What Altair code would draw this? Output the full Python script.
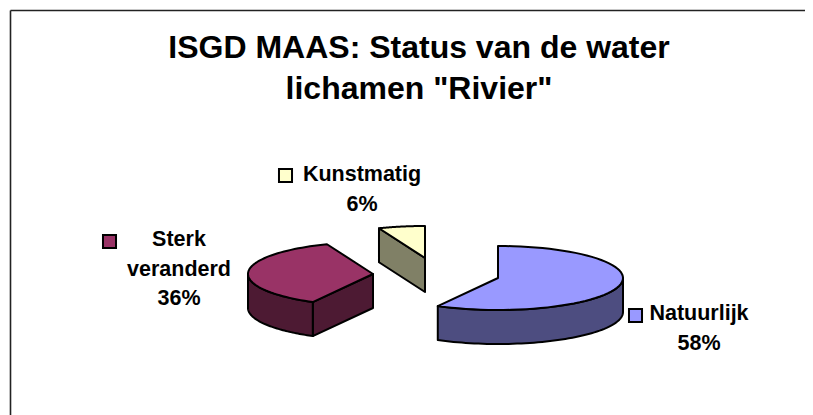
import math
import altair as alt
import pandas as pd

# ---- values
categories = ["Natuurlijk", "Sterk veranderd", "Kunstmatig"]
shares = [58, 36, 6]
label_lines = [["Natuurlijk"], ["Sterk", "veranderd"], ["Kunstmatig"]]
title_lines = ["ISGD MAAS: Status van de water", 'lichamen "Rivier"']

# ---- styling and layout (page pixels)
top_colors = ["#9999FF", "#993366", "#FFFFCC"]
side_colors = ["#4D4D80", "#4D1A33", "#808066"]
apex = [(498, 278), (373, 274), (425, 258)]       # exploded slice anchors
key_pos = [(635.5, 315.5), (109.5, 241.5), (285.5, 175.5)]
label_x = [699, 179, 362]
label_y = [314, 240, 175]
line_step = 29.5
RX, RY, DEPTH = 125, 32, 34
W, H = 797, 407
FONT = "Liberation Sans"

x_enc = dict(scale=alt.Scale(domain=[8, 8 + W], range=[0, W]), axis=None)
y_enc = dict(scale=alt.Scale(domain=[8, 8 + H], range=[0, H]), axis=None)


def rim(c, a0, a1, dy=0, n=60):
    pts = []
    for i in range(n + 1):
        a = math.radians(a0 + (a1 - a0) * i / n)
        pts.append((c[0] + RX * math.sin(a), c[1] - RY * math.cos(a) + dy))
    return pts


def face(points, color):
    df = pd.DataFrame(points, columns=["x", "y"])
    df["seq"] = range(len(df))
    return (
        alt.Chart(df)
        .mark_line(interpolate="linear-closed", fill=color, stroke="black",
                   strokeWidth=2, strokeJoin="round")
        .encode(x=alt.X("x:Q", **x_enc), y=alt.Y("y:Q", **y_enc), order="seq:Q")
    )


layers = []

# frame: top and left rules only
frame = pd.DataFrame({"x": [10.5, 10.5], "x2": [10.5, 813], "y": [10.5, 10.5], "y2": [415, 10.5]})
layers.append(
    alt.Chart(frame).mark_rule(color="#222222", strokeWidth=1.6).encode(
        x=alt.X("x:Q", **x_enc), x2="x2:Q", y=alt.Y("y:Q", **y_enc), y2="y2:Q"
    )
)

# slices
start = 0.0
for i, share in enumerate(shares):
    end = start + share * 3.6
    c = apex[i]
    c_low = (c[0], c[1] + DEPTH)
    r0 = rim(c, start, start, 0, 1)[0]
    # radial wall at the slice's earlier edge when it faces the viewer
    if 180 < start < 360:
        low = (r0[0], r0[1] + DEPTH)
        layers.append(face([c, r0, low, c_low], side_colors[i]))
    # curved outer wall on the front half of the ellipse
    a0, a1 = max(start, 90), min(end, 270)
    if a1 > a0:
        layers.append(face(rim(c, a0, a1) + rim(c, a1, a0, DEPTH), side_colors[i]))
    layers.append(face([c] + rim(c, start, end), top_colors[i]))
    start = end

# legend keys
keys = pd.DataFrame({
    "x": [p[0] for p in key_pos], "y": [p[1] for p in key_pos],
    "category": categories, "color": top_colors,
})
layers.append(
    alt.Chart(keys).mark_square(size=170, opacity=1, stroke="black", strokeWidth=2).encode(
        x=alt.X("x:Q", **x_enc), y=alt.Y("y:Q", **y_enc),
        fill=alt.Fill("color:N", scale=None),
    )
)

# labels
rows = []
for lines, share, lx, ly in zip(label_lines, shares, label_x, label_y):
    for j, t in enumerate(lines + [f"{share}%"]):
        rows.append({"x": lx, "y": ly + j * line_step, "text": t})
layers.append(
    alt.Chart(pd.DataFrame(rows))
    .mark_text(font=FONT, fontWeight="bold", fontSize=21.5, color="black",
               align="center", baseline="middle")
    .encode(x=alt.X("x:Q", **x_enc), y=alt.Y("y:Q", **y_enc), text="text:N")
)

chart = (
    alt.layer(*layers)
    .properties(
        width=W, height=H, padding=0,
        autosize=alt.AutoSizeParams(type="none"),
        title=alt.TitleParams(
            text=title_lines, font=FONT, fontWeight="bold", fontSize=32, lineHeight=41,
            color="black", anchor="middle", frame="group", dx=12.5, dy=102, baseline="top",
        ),
    )
    .configure_view(stroke=None)
)
chart.save("out.html", embed_options={"renderer": "svg", "actions": False})
